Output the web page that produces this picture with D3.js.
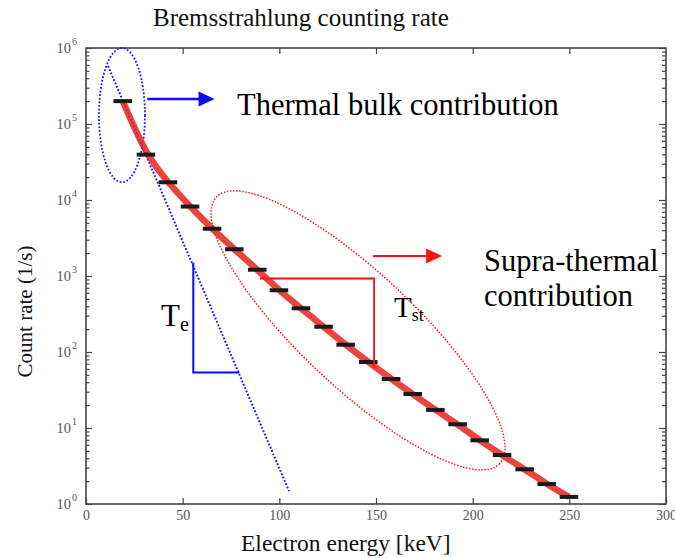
<!DOCTYPE html>
<html><head><meta charset="utf-8">
<script src="https://cdn.jsdelivr.net/npm/d3@7"></script>
<style>
body{margin:0;background:#fff}
svg{display:block}
text{font-family:"Liberation Serif","Times New Roman",Times,serif}
</style>
</head><body><svg id="c" width="675" height="558"></svg>
<script>
// ---------- data ----------
const energies = [19,31,42.4,53.8,65.2,76.7,88.6,99.8,111.2,122.9,134.3,146,157.8,169,180.7,192.2,203.6,215.2,226.9,238.3,249.8];
const counts   = [2.0e5,3.95e4,1.71e4,8.2e3,4.19e3,2.25e3,1.21e3,649,376,215,124.7,73.8,44.2,28,17.3,11.2,6.88,4.41,2.86,1.83,1.24];
const binHalfWidth = 4.8; // keV, half-length of each count marker
const thermalE = [11.4, 105];
const thermalC = [5.8e5, 1.48];
const xTicks = [0,50,100,150,200,250,300];
const xTickLabels = ["0","50","100","150","200","250","300"];
const yDecades = [1,10,100,1e3,1e4,1e5,1e6];
const yTickExp = ["0","1","2","3","4","5","6"];
const thermalEllipse = {eMin:6.7, eMax:30.5, cMin:1.71e4, cMax:1.0e6};
const supraEllipse = {e1:67.4, c1:1.09e4, e2:214, c2:3.4, ratio:0.293};
const teBracket = {e:55.5, cTop:1496, cBot:53.7, eEnd:79.3};
const tstBracket = {eStart:90, c:927, eEnd:149, cBot:62};
const blueArrow = {e0:31.7, e1:66.5, c:2.13e5};
const redArrow = {e0:148.4, e1:184.2, c:1833};

// ---------- layout ----------
const L=86, R=666, T=48, B=504;
const x = d3.scaleLinear().domain([0,300]).range([L,R]);
const y = d3.scaleLog().domain([1,1e6]).range([B,T]);
const svg = d3.select("#c");
svg.append("rect").attr("width",675).attr("height",558).attr("fill","#fff");

const axisCol = "#444";
const allYTicks = y.ticks();
const isMajor = v => Math.abs(Math.log10(v)-Math.round(Math.log10(v)))<1e-9;

// left axis (inward ticks)
svg.append("g").attr("transform",`translate(${L},0)`)
  .call(d3.axisLeft(y).tickValues(allYTicks).tickFormat("").tickSizeOuter(0))
  .call(g=>{g.select(".domain").remove();
    g.selectAll(".tick line").attr("x2",d=>isMajor(d)?6:3.5).attr("stroke",axisCol).attr("stroke-width",1.2);});
// right axis (inward ticks)
svg.append("g").attr("transform",`translate(${R},0)`)
  .call(d3.axisRight(y).tickValues(allYTicks).tickFormat("").tickSizeOuter(0))
  .call(g=>{g.select(".domain").remove();
    g.selectAll(".tick line").attr("x2",d=>isMajor(d)?-7:-4).attr("stroke",axisCol).attr("stroke-width",1.2);});
// bottom axis
svg.append("g").attr("transform",`translate(0,${B})`)
  .call(d3.axisBottom(x).tickValues(xTicks).tickFormat((d,i)=>xTickLabels[i]).tickSizeOuter(0).tickSizeInner(0).tickPadding(6))
  .call(g=>{g.select(".domain").remove();
    g.selectAll(".tick").append("line").attr("y2",-6).attr("stroke",axisCol).attr("stroke-width",1.2);
    g.selectAll(".tick text").attr("font-size",14).attr("fill","#555").attr("font-family","Liberation Serif, Times New Roman, serif");});
// top axis
svg.append("g").attr("transform",`translate(0,${T})`)
  .call(d3.axisTop(x).tickValues(xTicks.slice(1,-1)).tickFormat("").tickSizeOuter(0))
  .call(g=>{g.select(".domain").remove();
    g.selectAll(".tick line").attr("y2",6).attr("stroke",axisCol).attr("stroke-width",1.2);});
// frame
svg.append("rect").attr("x",L).attr("y",T).attr("width",R-L).attr("height",B-T)
  .attr("fill","none").attr("stroke",axisCol).attr("stroke-width",1.6);

// y tick labels 10^n
const yl = svg.append("g");
yDecades.forEach((v,i)=>{
  const t = yl.append("text").attr("x",L-9).attr("y",y(v)+5).attr("text-anchor","end")
    .attr("fill","#555").attr("font-size",14.5);
  t.append("tspan").text("10");
  t.append("tspan").attr("font-size",10).attr("dy",-8).attr("dx",1).text(yTickExp[i]);
});

// ---------- annotations: ellipses ----------
{
  const cx = (x(thermalEllipse.eMin)+x(thermalEllipse.eMax))/2;
  const rx = (x(thermalEllipse.eMax)-x(thermalEllipse.eMin))/2;
  const cy = (y(thermalEllipse.cMin)+y(thermalEllipse.cMax))/2;
  const ry = (y(thermalEllipse.cMin)-y(thermalEllipse.cMax))/2;
  svg.append("ellipse").attr("cx",cx).attr("cy",cy).attr("rx",rx).attr("ry",ry)
    .attr("fill","none").attr("stroke","#1a1aff").attr("stroke-width",1.8).attr("stroke-dasharray","1.8 1.8");
}
{
  const p1=[x(supraEllipse.e1),y(supraEllipse.c1)], p2=[x(supraEllipse.e2),y(supraEllipse.c2)];
  const cx=(p1[0]+p2[0])/2, cy=(p1[1]+p2[1])/2;
  const a=Math.hypot(p2[0]-p1[0],p2[1]-p1[1])/2, b=a*supraEllipse.ratio;
  const ang=Math.atan2(p2[1]-p1[1],p2[0]-p1[0])*180/Math.PI;
  svg.append("ellipse").attr("transform",`translate(${cx},${cy}) rotate(${ang})`)
    .attr("rx",a).attr("ry",b).attr("fill","none").attr("stroke","#ff1a1a")
    .attr("stroke-width",1.5).attr("stroke-dasharray","1.5 1.6");
}

// thermal dotted line
svg.append("path").datum(thermalE.map((e,i)=>[e,thermalC[i]]))
  .attr("d",d3.line().x(d=>x(d[0])).y(d=>y(d[1])))
  .attr("fill","none").attr("stroke","#1a1aff").attr("stroke-width",2).attr("stroke-dasharray","1.8 1.8");

// red fit line through counts
const pts = energies.map((e,i)=>[e,counts[i]]);
svg.append("path").datum(pts)
  .attr("d",d3.line().curve(d3.curveBasis).x(d=>x(d[0])).y(d=>y(d[1])))
  .attr("fill","none").attr("stroke","#e8231d").attr("stroke-opacity",0.85).attr("stroke-width",6.5)
  .attr("stroke-linecap","butt");

// markers
svg.append("g").selectAll("line").data(pts).join("line")
  .attr("x1",d=>x(d[0]-binHalfWidth)).attr("x2",d=>x(d[0]+binHalfWidth))
  .attr("y1",d=>y(d[1])).attr("y2",d=>y(d[1]))
  .attr("stroke","#1a1a1a").attr("stroke-width",4);

// brackets
svg.append("path")
  .attr("d",`M${x(teBracket.e)},${y(teBracket.cTop)}V${y(teBracket.cBot)}H${x(teBracket.eEnd)}`)
  .attr("fill","none").attr("stroke","#0a0aff").attr("stroke-width",2);
svg.append("path")
  .attr("d",`M${x(tstBracket.eStart)},${y(tstBracket.c)}H${x(tstBracket.eEnd)}V${y(tstBracket.cBot)}`)
  .attr("fill","none").attr("stroke","#ff1010").attr("stroke-width",1.8);

// arrows
function arrow(a,col,w){
  const x0=x(a.e0), x1=x(a.e1), yy=y(a.c);
  svg.append("line").attr("x1",x0).attr("x2",x1-14).attr("y1",yy).attr("y2",yy)
    .attr("stroke",col).attr("stroke-width",w);
  svg.append("path").attr("d",`M${x1},${yy}L${x1-16},${yy-7.5}L${x1-16},${yy+7.5}Z`).attr("fill",col);
}
arrow(blueArrow,"#0a0aff",2.5);
arrow(redArrow,"#ff1010",2.2);

// ---------- texts ----------
svg.append("text").attr("x",153).attr("y",26).attr("font-size",25).attr("fill","#111")
  .text("Bremsstrahlung counting rate");
svg.append("text").attr("x",241).attr("y",551).attr("font-size",23.5).attr("fill","#111")
  .text("Electron energy [keV]");
svg.append("text").attr("transform","translate(32,311.5) rotate(-90)").attr("text-anchor","middle")
  .attr("font-size",21).attr("fill","#111").text("Count rate (1/s)");
svg.append("text").attr("x",237).attr("y",115).attr("font-size",30.5).attr("fill","#000")
  .text("Thermal bulk contribution");
svg.append("text").attr("x",484).attr("y",271).attr("font-size",30.5).attr("fill","#000")
  .text("Supra-thermal");
svg.append("text").attr("x",484).attr("y",306).attr("font-size",30.5).attr("fill","#000")
  .text("contribution");
{
  const t=svg.append("text").attr("x",161).attr("y",326).attr("fill","#000");
  t.append("tspan").attr("font-size",31).text("T");
  t.append("tspan").attr("font-size",20).attr("dy",5).text("e");
}
{
  const t=svg.append("text").attr("x",394).attr("y",317).attr("fill","#000");
  t.append("tspan").attr("font-size",29).text("T");
  t.append("tspan").attr("font-size",18).attr("dy",4).text("st");
}
</script>
</body></html>
